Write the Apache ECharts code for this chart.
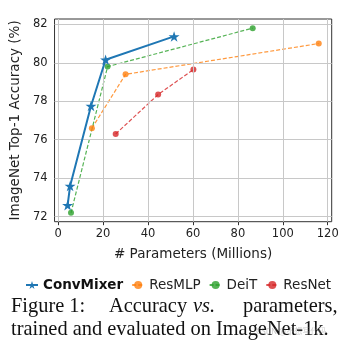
<!DOCTYPE html>
<html>
<head>
<meta charset="utf-8">
<script src="https://cdn.jsdelivr.net/npm/echarts@6/dist/echarts.min.js"></script>
<style>
html,body{margin:0;padding:0;background:#fff;}
#c{width:363px;height:343px;}
</style>
</head>
<body>
<div id="c"></div>
<script>
// ---- data ----
var seriesNames = ['ConvMixer', 'ResMLP', 'DeiT', 'ResNet'];
var convMixerX = [4.2, 5.3, 14.6, 21.1, 51.6];
var convMixerY = [72.6, 73.6, 77.75, 80.16, 81.37];
var resMLPX = [15, 30, 116];
var resMLPY = [76.6, 79.4, 81.0];
var deitX = [5.7, 22, 86.6];
var deitY = [72.2, 79.8, 81.8];
var resNetX = [25.6, 44.5, 60.2];
var resNetY = [76.3, 78.35, 79.65];
var xTicks = [0, 20, 40, 60, 80, 100, 120];
var yTicks = [72, 74, 76, 78, 80, 82];
var xTitle = '# Parameters (Millions)';
var yTitle = 'ImageNet Top-1 Accuracy (%)';
var captionLine1 = ['Figure 1:', 'Accuracy', 'vs.', 'parameters,'];
var captionLine2 = 'trained and evaluated on ImageNet-1k.';
var watermark = 'CSDN @不想写代码';

function zip(xs, ys) { return xs.map(function (x, i) { return [x, ys[i]]; }); }

var colors = ['#1f77b4', '#ff7f0e', '#2ca02c', '#d62728'];
var starPath = 'path://M50 0 L61.23 34.55 L97.55 34.55 L68.16 55.9 L79.39 90.45 L50 69.1 L20.61 90.45 L31.84 55.9 L2.45 34.55 L38.77 34.55 Z';
var sans = 'DejaVu Sans';
var serif = 'Liberation Serif';

function dashed(name, xs, ys, color) {
  return {
    name: name, type: 'line', data: zip(xs, ys), z: 4,
    symbol: 'circle', symbolSize: 6,
    lineStyle: { color: color, width: 1.2, type: [4, 2], opacity: 0.8 },
    itemStyle: { color: color, opacity: 0.8 }
  };
}

var chart = echarts.init(document.getElementById('c'), null, { renderer: 'canvas' });
chart.setOption({
  animation: false,
  backgroundColor: '#fff',
  grid: {
    left: 52.3, right: 31.3, top: 19, bottom: 121.3,
    show: true, borderColor: '#333', borderWidth: 1, backgroundColor: 'transparent'
  },
  xAxis: {
    type: 'value', min: -1.63, max: 121.77,
    axisLine: { show: false },
    axisTick: { show: true, length: 3.5, lineStyle: { color: '#333' }, customValues: xTicks },
    axisLabel: { customValues: xTicks, fontSize: 11.5, color: '#222', fontFamily: sans, margin: 6 },
    splitLine: { show: false },
    name: xTitle, nameLocation: 'middle', nameGap: 26,
    nameTextStyle: { fontSize: 13.5, color: '#222', fontFamily: sans }
  },
  yAxis: {
    type: 'value', min: 71.74, max: 82.275,
    axisLine: { show: false },
    axisTick: { show: true, length: 3.5, lineStyle: { color: '#333' }, customValues: yTicks },
    axisLabel: { customValues: yTicks, fontSize: 11.5, color: '#222', fontFamily: sans, margin: 7 },
    splitLine: { show: false },
    name: yTitle, nameLocation: 'middle', nameGap: 31, nameRotate: 90,
    nameTextStyle: { fontSize: 13.5, color: '#222', fontFamily: sans }
  },
  legend: {
    data: seriesNames,
    top: 273, left: 20,
    itemWidth: 12, itemHeight: 10, itemGap: 8,
    textStyle: {
      fontSize: 13.5, color: '#222', fontFamily: sans,
      rich: { b: { fontSize: 13.5, fontWeight: 'bold', color: '#111', fontFamily: sans } }
    },
    formatter: function (n) { return n === 'ConvMixer' ? '{b|' + n + '}' : n; }
  },
  series: [
    {
      name: '_grid', type: 'line', data: [], z: 1, silent: true,
      markLine: {
        silent: true, symbol: ['none', 'none'], label: { show: false },
        lineStyle: { color: '#c8c8c8', width: 1, type: 'solid' },
        emphasis: { disabled: true },
        data: xTicks.map(function (v) { return { xAxis: v }; })
          .concat(yTicks.map(function (v) { return { yAxis: v }; }))
      }
    },
    dashed('ResMLP', resMLPX, resMLPY, colors[1]),
    dashed('DeiT', deitX, deitY, colors[2]),
    dashed('ResNet', resNetX, resNetY, colors[3]),
    {
      name: 'ConvMixer', type: 'line', data: zip(convMixerX, convMixerY), z: 6,
      symbol: starPath, symbolSize: 11, symbolKeepAspect: true,
      lineStyle: { color: colors[0], width: 2 },
      itemStyle: { color: colors[0] }
    }
  ],
  graphic: [
    { type: 'text', left: 11, top: 297, style: { text: captionLine1[0], fontSize: 20.4, fontFamily: serif, fill: '#111' } },
    { type: 'text', left: 109, top: 297, style: { text: captionLine1[1], fontSize: 20.4, fontFamily: serif, fill: '#111' } },
    { type: 'text', left: 193, top: 297, style: { text: captionLine1[2], fontSize: 20.4, fontFamily: serif, fontStyle: 'italic', fill: '#111' } },
    { type: 'text', left: 243, top: 297, style: { text: captionLine1[3], fontSize: 20.4, fontFamily: serif, fill: '#111' } },
    { type: 'text', left: 11, top: 320, style: { text: captionLine2, fontSize: 20.4, fontFamily: serif, fill: '#111' } },
    { type: 'text', left: 256, top: 327, style: { text: watermark, fontSize: 8, fontFamily: 'Noto Sans CJK SC', fill: 'rgba(140,140,140,0.45)' } }
  ]
});
</script>
</body>
</html>
